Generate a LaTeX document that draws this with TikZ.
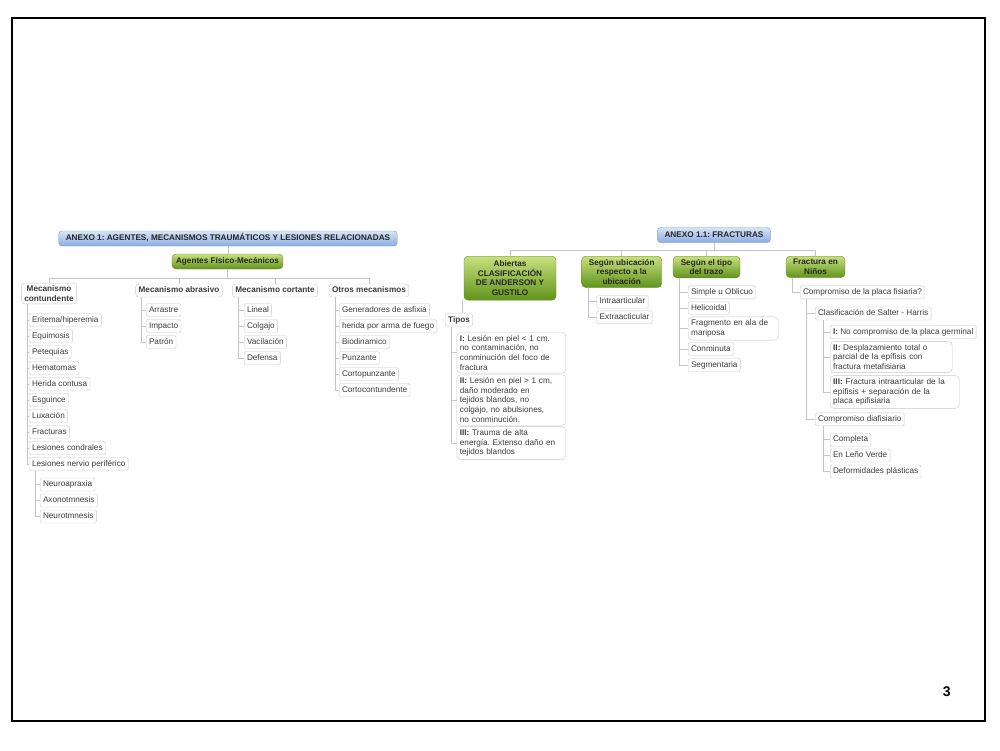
\documentclass[tikz,border=0pt]{standalone}
\usepackage{fontspec}
\setmainfont{Liberation Sans}
\usepackage{tikz}
\usetikzlibrary{shapes,backgrounds}
\usepackage{xcolor}
\frenchspacing
\definecolor{line-gray}{RGB}{196,196,196}
\definecolor{box-gray}{RGB}{200,200,200}
\definecolor{text-gray}{RGB}{60,60,60}
\definecolor{blue-top}{RGB}{216,229,247}
\definecolor{blue-bot}{RGB}{138,172,224}
\definecolor{blue-edge}{RGB}{125,155,205}
\definecolor{green-top}{RGB}{200,224,126}
\definecolor{green-bot}{RGB}{96,148,26}
\definecolor{green-edge}{RGB}{104,140,44}
\tikzstyle{txt}=[font=\fontsize{8.2}{9.6}\selectfont, text=text-gray]
\tikzstyle{leaf}=[txt, draw=box-gray, fill=white, rounded corners=1.5pt, anchor=west, inner xsep=2.8pt, inner ysep=2.5pt, text height=6.2pt, text depth=1.8pt]
\tikzstyle{note}=[txt, draw=box-gray, fill=white, rounded corners=4pt, anchor=west, align=left, inner xsep=3pt, inner ysep=3pt]
\tikzstyle{topic}=[txt, font=\fontsize{8.2}{9.6}\selectfont\bfseries, draw=box-gray, fill=white, rounded corners=3pt, align=center, inner xsep=3pt, inner ysep=2.5pt, text height=6.2pt, text depth=1.8pt]
\tikzstyle{greenbox}=[font=\fontsize{8.2}{9.6}\selectfont\bfseries, text=black!85, draw=green-edge, top color=green-top, bottom color=green-bot, rounded corners=4pt, align=center, inner xsep=4pt, inner ysep=3pt, anchor=north]
\tikzstyle{bluebox}=[font=\fontsize{8.2}{9.6}\selectfont\bfseries, text=black!85, draw=blue-edge, top color=blue-top, bottom color=blue-bot, rounded corners=3pt, inner xsep=7pt, inner ysep=3.5pt, text height=6.2pt, text depth=1.8pt]
\tikzstyle{link}=[draw=line-gray, line width=0.6pt]

\begin{document}
\begin{tikzpicture}[x=1pt,y=-1pt]
	\useasboundingbox (0,0) rectangle (1000,750);
	\draw[line width=1.2pt] (12,18) rectangle (985,721);
	\node[font=\fontsize{14}{16}\selectfont\bfseries] (pg) at (946.7,692) {3};

	\node[bluebox] (anx1) at (228,238.5) {ANEXO 1: AGENTES, MECANISMOS TRAUMÁTICOS Y LESIONES RELACIONADAS};
	\node[greenbox, anchor=center, inner ysep=3.5pt, text height=6.2pt, text depth=1.8pt] (agf) at (227.5,261.5) {Agentes Físico-Mecánicos};
	\draw[link] (anx1.south) -- (anx1.south |- agf.north);

	\node[topic, text height=, text depth=] (cont) at (49,293.5) {Mecanismo\\contundente};
	\node[topic] (abr) at (179,290.5) {Mecanismo abrasivo};
	\node[topic] (cort) at (275,290.5) {Mecanismo cortante};
	\node[topic] (otr) at (369,290.5) {Otros mecanismos};
	\foreach \c in {cont,abr,cort,otr}
		\draw[link] (agf.south) -- ++(0,9) -| (\c.north);

	\node[leaf] (c1) at (29,320) {Eritema/hiperemia};
	\node[leaf] (c2) at (29,336) {Equimosis};
	\node[leaf] (c3) at (29,352) {Petequias};
	\node[leaf] (c4) at (29,368) {Hematomas};
	\node[leaf] (c5) at (29,384) {Herida contusa};
	\node[leaf] (c6) at (29,400) {Esguince};
	\node[leaf] (c7) at (29,416) {Luxación};
	\node[leaf] (c8) at (29,432) {Fracturas};
	\node[leaf] (c9) at (29,448) {Lesiones condrales};
	\node[leaf] (c10) at (29,464) {Lesiones nervio periférico};
	\foreach \c in {c1,c2,c3,c4,c5,c6,c7,c8,c9,c10}
		\draw[link] ([xshift=6pt]cont.south west) |- (\c.west);

	\node[leaf] (n1) at (40,484.5) {Neuroapraxia};
	\node[leaf] (n2) at (40,500.5) {Axonotmnesis};
	\node[leaf] (n3) at (40,516.5) {Neurotmnesis};
	\foreach \c in {n1,n2,n3}
		\draw[link] ([xshift=6pt]c10.south west) |- (\c.west);

	\node[leaf] (a1) at (146,310) {Arrastre};
	\node[leaf] (a2) at (146,326) {Impacto};
	\node[leaf] (a3) at (146,342) {Patrón};
	\foreach \c in {a1,a2,a3}
		\draw[link] ([xshift=6pt]abr.south west) |- (\c.west);

	\node[leaf] (k1) at (244,310) {Lineal};
	\node[leaf] (k2) at (244,326) {Colgajo};
	\node[leaf] (k3) at (244,342) {Vacilación};
	\node[leaf] (k4) at (244,358) {Defensa};
	\foreach \c in {k1,k2,k3,k4}
		\draw[link] ([xshift=6pt]cort.south west) |- (\c.west);

	\node[leaf] (o1) at (339,310) {Generadores de asfixia};
	\node[leaf] (o2) at (339,326) {herida por arma de fuego};
	\node[leaf] (o3) at (339,342) {Biodinamico};
	\node[leaf] (o4) at (339,358) {Punzante};
	\node[leaf] (o5) at (339,374) {Cortopunzante};
	\node[leaf] (o6) at (339,390) {Cortocontundente};
	\foreach \c in {o1,o2,o3,o4,o5,o6}
		\draw[link] ([xshift=6pt]otr.south west) |- (\c.west);

	\node[bluebox] (anx11) at (714,235) {ANEXO 1.1: FRACTURAS};
	\node[greenbox, minimum width=92pt, minimum height=44pt] (abi) at (510,256) {Abiertas\\CLASIFICACIÓN\\DE ANDERSON Y\\GUSTILO};
	\node[greenbox, minimum width=80pt] (ubi) at (621.7,256) {Según ubicación\\respecto a la\\ubicación};
	\node[greenbox, minimum width=67pt] (tra) at (706.5,256) {Según el tipo\\del trazo};
	\node[greenbox, minimum width=59pt] (nin) at (815.5,256) {Fractura en\\Niños};
	\foreach \c in {abi,ubi,tra,nin}
		\draw[link] (anx11.south) -- ++(0,8) -| (\c.north);

	\node[topic] (tipos) at (459,320) {Tipos};
	\draw[link] ([xshift=3pt]tipos.north) -- ([xshift=3pt]tipos.north |- abi.south);
	\node[note, text width=103pt] (t1) at (456.7,352.7) {\textbf{I:} Lesión en piel < 1 cm.\\no contaminación, no\\conminución del foco de\\fractura};
	\node[note, text width=103pt] (t2) at (456.7,400) {\textbf{II:} Lesión en piel > 1 cm,\\daño moderado en\\tejidos blandos, no\\colgajo, no abulsiones,\\no conminución.};
	\node[note, text width=103pt] (t3) at (456.7,443) {\textbf{III:} Trauma de alta\\energía. Extenso daño en\\tejidos blandos};
	\foreach \c in {t1,t2,t3}
		\draw[link] ([xshift=6.5pt]tipos.south west) |- (\c.west);

	\node[leaf] (u1) at (596.7,301.7) {Intraarticular};
	\node[leaf] (u2) at (596.7,317.3) {Extraacticular};
	\foreach \c in {u1,u2}
		\draw[link] ([xshift=6.5pt]ubi.south west) |- (\c.west);

	\node[leaf] (r1) at (688,292.3) {Simple u Oblicuo};
	\node[leaf] (r2) at (688,308) {Helicoidal};
	\node[note, text width=84pt] (r3) at (688,328.5) {Fragmento en ala de\\mariposa};
	\node[leaf] (r4) at (688,349) {Conminuta};
	\node[leaf] (r5) at (688,365) {Segmentaria};
	\foreach \c in {r1,r2,r3,r4,r5}
		\draw[link] ([xshift=6.5pt]tra.south west) |- (\c.west);

	\node[leaf] (pf) at (800,292.3) {Compromiso de la placa fisiaria?};
	\draw[link] ([xshift=6pt]nin.south west) |- (pf.west);
	\node[leaf] (sh) at (815,313.5) {Clasificación de Salter - Harris};
	\node[leaf] (df) at (815,419.3) {Compromiso diafisiario};
	\foreach \c in {sh,df}
		\draw[link] ([xshift=6.7pt]pf.south west) |- (\c.west);

	\node[leaf] (s1) at (830,332) {\textbf{I:} No compromiso de la placa germinal};
	\node[note, text width=116pt] (s2) at (830,357) {\textbf{II:} Desplazamiento total o\\parcial de la epífisis con\\fractura metafisiaria};
	\node[note, text width=123pt] (s3) at (830,392) {\textbf{III:} Fractura intraarticular de la\\epífisis + separación de la\\placa epifisiaria};
	\foreach \c in {s1,s2,s3}
		\draw[link] ([xshift=8.3pt]sh.south west) |- (\c.west);

	\node[leaf] (d1) at (830,439.7) {Completa};
	\node[leaf] (d2) at (830,455.5) {En Leño Verde};
	\node[leaf] (d3) at (830,471.5) {Deformidades plásticas};
	\foreach \c in {d1,d2,d3}
		\draw[link] ([xshift=8.3pt]df.south west) |- (\c.west);
\end{tikzpicture}
\end{document}
